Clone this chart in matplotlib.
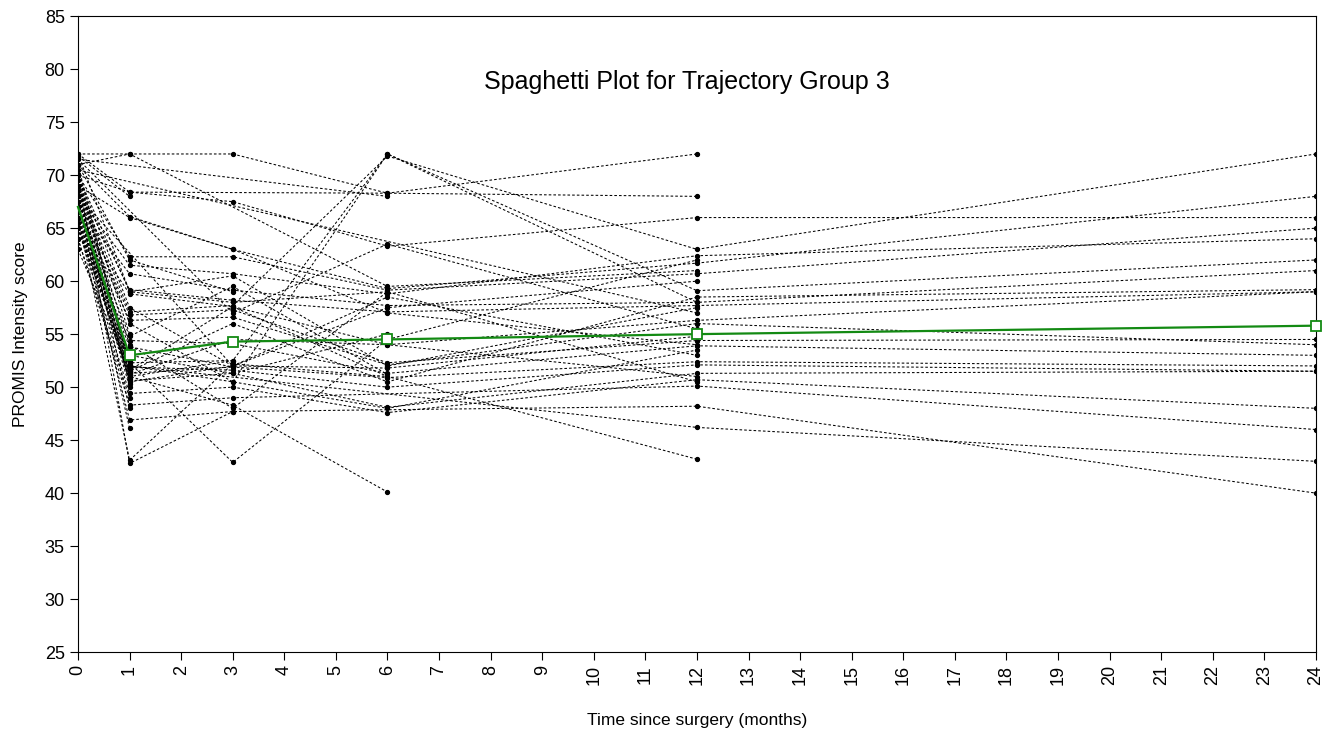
import matplotlib
matplotlib.use('Agg')
import matplotlib.pyplot as plt
import numpy as np

plt.rcParams['font.family'] = ['Liberation Sans', 'DejaVu Sans']

nan = np.nan
months = [0, 1, 3, 6, 12, 24]

# one value per subject at each visit (nan = no visit)
t0 = [72, 70, 69, 72, 71, 70, 68, 67, 69, 66, 68, 67, 65, 66, 67, 68, 65, 64, 66, 70,
      68, 66, 66, 70, 65, 71, 67, 69, 66, 64, 68, 67, 70, 63, 69, 72, 71, 71.5, 70.5, 69.5,
      68.5, 67.5, 66.5, 65.5, 71.8,
      70, 71, 69, 70, 68, 71.5, 69, 67, 66, 68, 70, 65, 69, 67]
t1 = [72, 52.3, 57.1, 68.4, 66.1, 62.3, 61.5, 60.7, 59.2, 58.8, 56.8, 56.3, 54.4, 53.8, 51.9, 50.6, 49.4, 48.3, 46.9, 52.0,
      52.3, 51.0, 43.1, 42.8, 51.6, 51.3, 50.0, 51.0, 50.6, 49.0, 52.5, 53.0, 55.0, 51.5, 48.0, 59.0, 62.0, nan, nan, 52.0,
      50.3, 46.1, 51.8, 50.8, 68.0,
      68.4, 72.0, 66.0, 59.0, nan, nan, 54.0, 52.0, 51.5, 50.5, 57.5, 51.2, 56.0, 54.8]
t3 = [72, 52.5, 57.7, 67.5, 63, 62.3, 60.7, 59.15, 58.2, 57.6, 57.3, 56.6, 54.1, 51.9, 51.6, 51.3, 50.0, 49.0, 47.7, nan,
      42.9, 48.3, 52.2, 47.7, 57.6, 51.9, nan, 52.5, nan, nan, nan, 51.3, nan, nan, nan, 58.0, 59.0, nan, nan, nan,
      nan, nan, nan, nan, nan,
      nan, nan, 63.0, 60.5, 52.0, 57.0, 48.0, 50.5, 56.0, 52.0, 52.0, 54.5, 50.5, 59.5]
t6 = [68.3, 72, 71.8, 63.3, 59.3, 59.15, 58.8, 57.7, 57.1, 54.0, 52.3, 52.1, 51.3, 50.9, 50.0, 48.1, 47.6, nan, nan, nan,
      54.5, 40.1, 51.0, nan, 51.0, nan, nan, nan, nan, nan, nan, 55.0, nan, nan, nan, 59.0, nan, 68.0, nan, nan,
      nan, nan, nan, nan, nan,
      68.3, 59.5, 57.0, 52.0, 58.5, 63.5, 59.0, 72.0, 50.5, 57.5, 51.8, 54.0, 48.0, 51.2]
t12 = [72, 59.1, 63, 66, 61.7, 60.7, 62.4, 58, 57.7, 56.3, 54.4, 56.0, 53.9, 52.4, 52.1, 51.3, 50.7, 50.1, 48.2, 46.2,
       62.0, nan, 43.2, nan, nan, nan, nan, nan, nan, nan, nan, nan, nan, nan, nan, nan, nan, nan, 57.0, nan,
       nan, nan, nan, nan, nan,
       68.0, 61.0, 54.0, 57.5, 53.0, 55.5, 50.5, 58.0, 58.5, 60.0, 54.8, 51.0, 53.5, nan]
t24 = [nan, 62, 72, 66, 68, 65, 64, 61, 59, 59, 54.5, 54, 53, 52, 51.5, 51.5, 48, 46, 40, 43,
       nan, nan, nan, nan, nan, nan, nan, nan, nan, nan, nan, nan, nan, nan, nan, nan, nan, nan, nan, nan,
       nan, nan, nan, nan, nan,
       nan, nan, nan, nan, nan, nan, nan, nan, 59.2, nan, nan, nan, nan, nan]

# group mean trajectory
mean_score = [67.0, 53.0, 54.3, 54.5, 55.0, 55.8]

fig = plt.figure(figsize=(13.31, 7.36), dpi=100)
ax = fig.add_axes([0.0586, 0.114, 0.9301, 0.864])

data = np.array([t0, t1, t3, t6, t12, t24], dtype=float)
x = np.array(months)
for i in range(data.shape[1]):
    y = data[:, i]
    ok = ~np.isnan(y)
    ax.plot(x[ok], y[ok], color='black', linestyle=(0, (2.5, 2)), linewidth=0.75,
            marker='o', markersize=2.8)

ax.plot(months, mean_score, color='#138a13', linewidth=1.6, marker='s', markersize=7,
        markerfacecolor='white', markeredgecolor='#138a13', markeredgewidth=1.3,
        markevery=[1, 2, 3, 4, 5], zorder=5, clip_on=False)

ax.set_xlim(0, 24)
ax.set_ylim(25, 85)
ax.set_xticks(range(0, 25))
ax.set_yticks(range(25, 90, 5))
ax.tick_params(axis='x', labelrotation=90, labelsize=13, length=6, direction='out')
ax.tick_params(axis='y', labelsize=13, length=6, direction='out')
ax.set_xlabel('Time since surgery (months)', fontsize=12.5, labelpad=20)
ax.set_ylabel('PROMIS Intensity score', fontsize=12.5, labelpad=12)
ax.text(0.492, 0.896, 'Spaghetti Plot for Trajectory Group 3', transform=ax.transAxes,
        ha='center', va='center', fontsize=18)

plt.savefig('out.png', dpi=100)
